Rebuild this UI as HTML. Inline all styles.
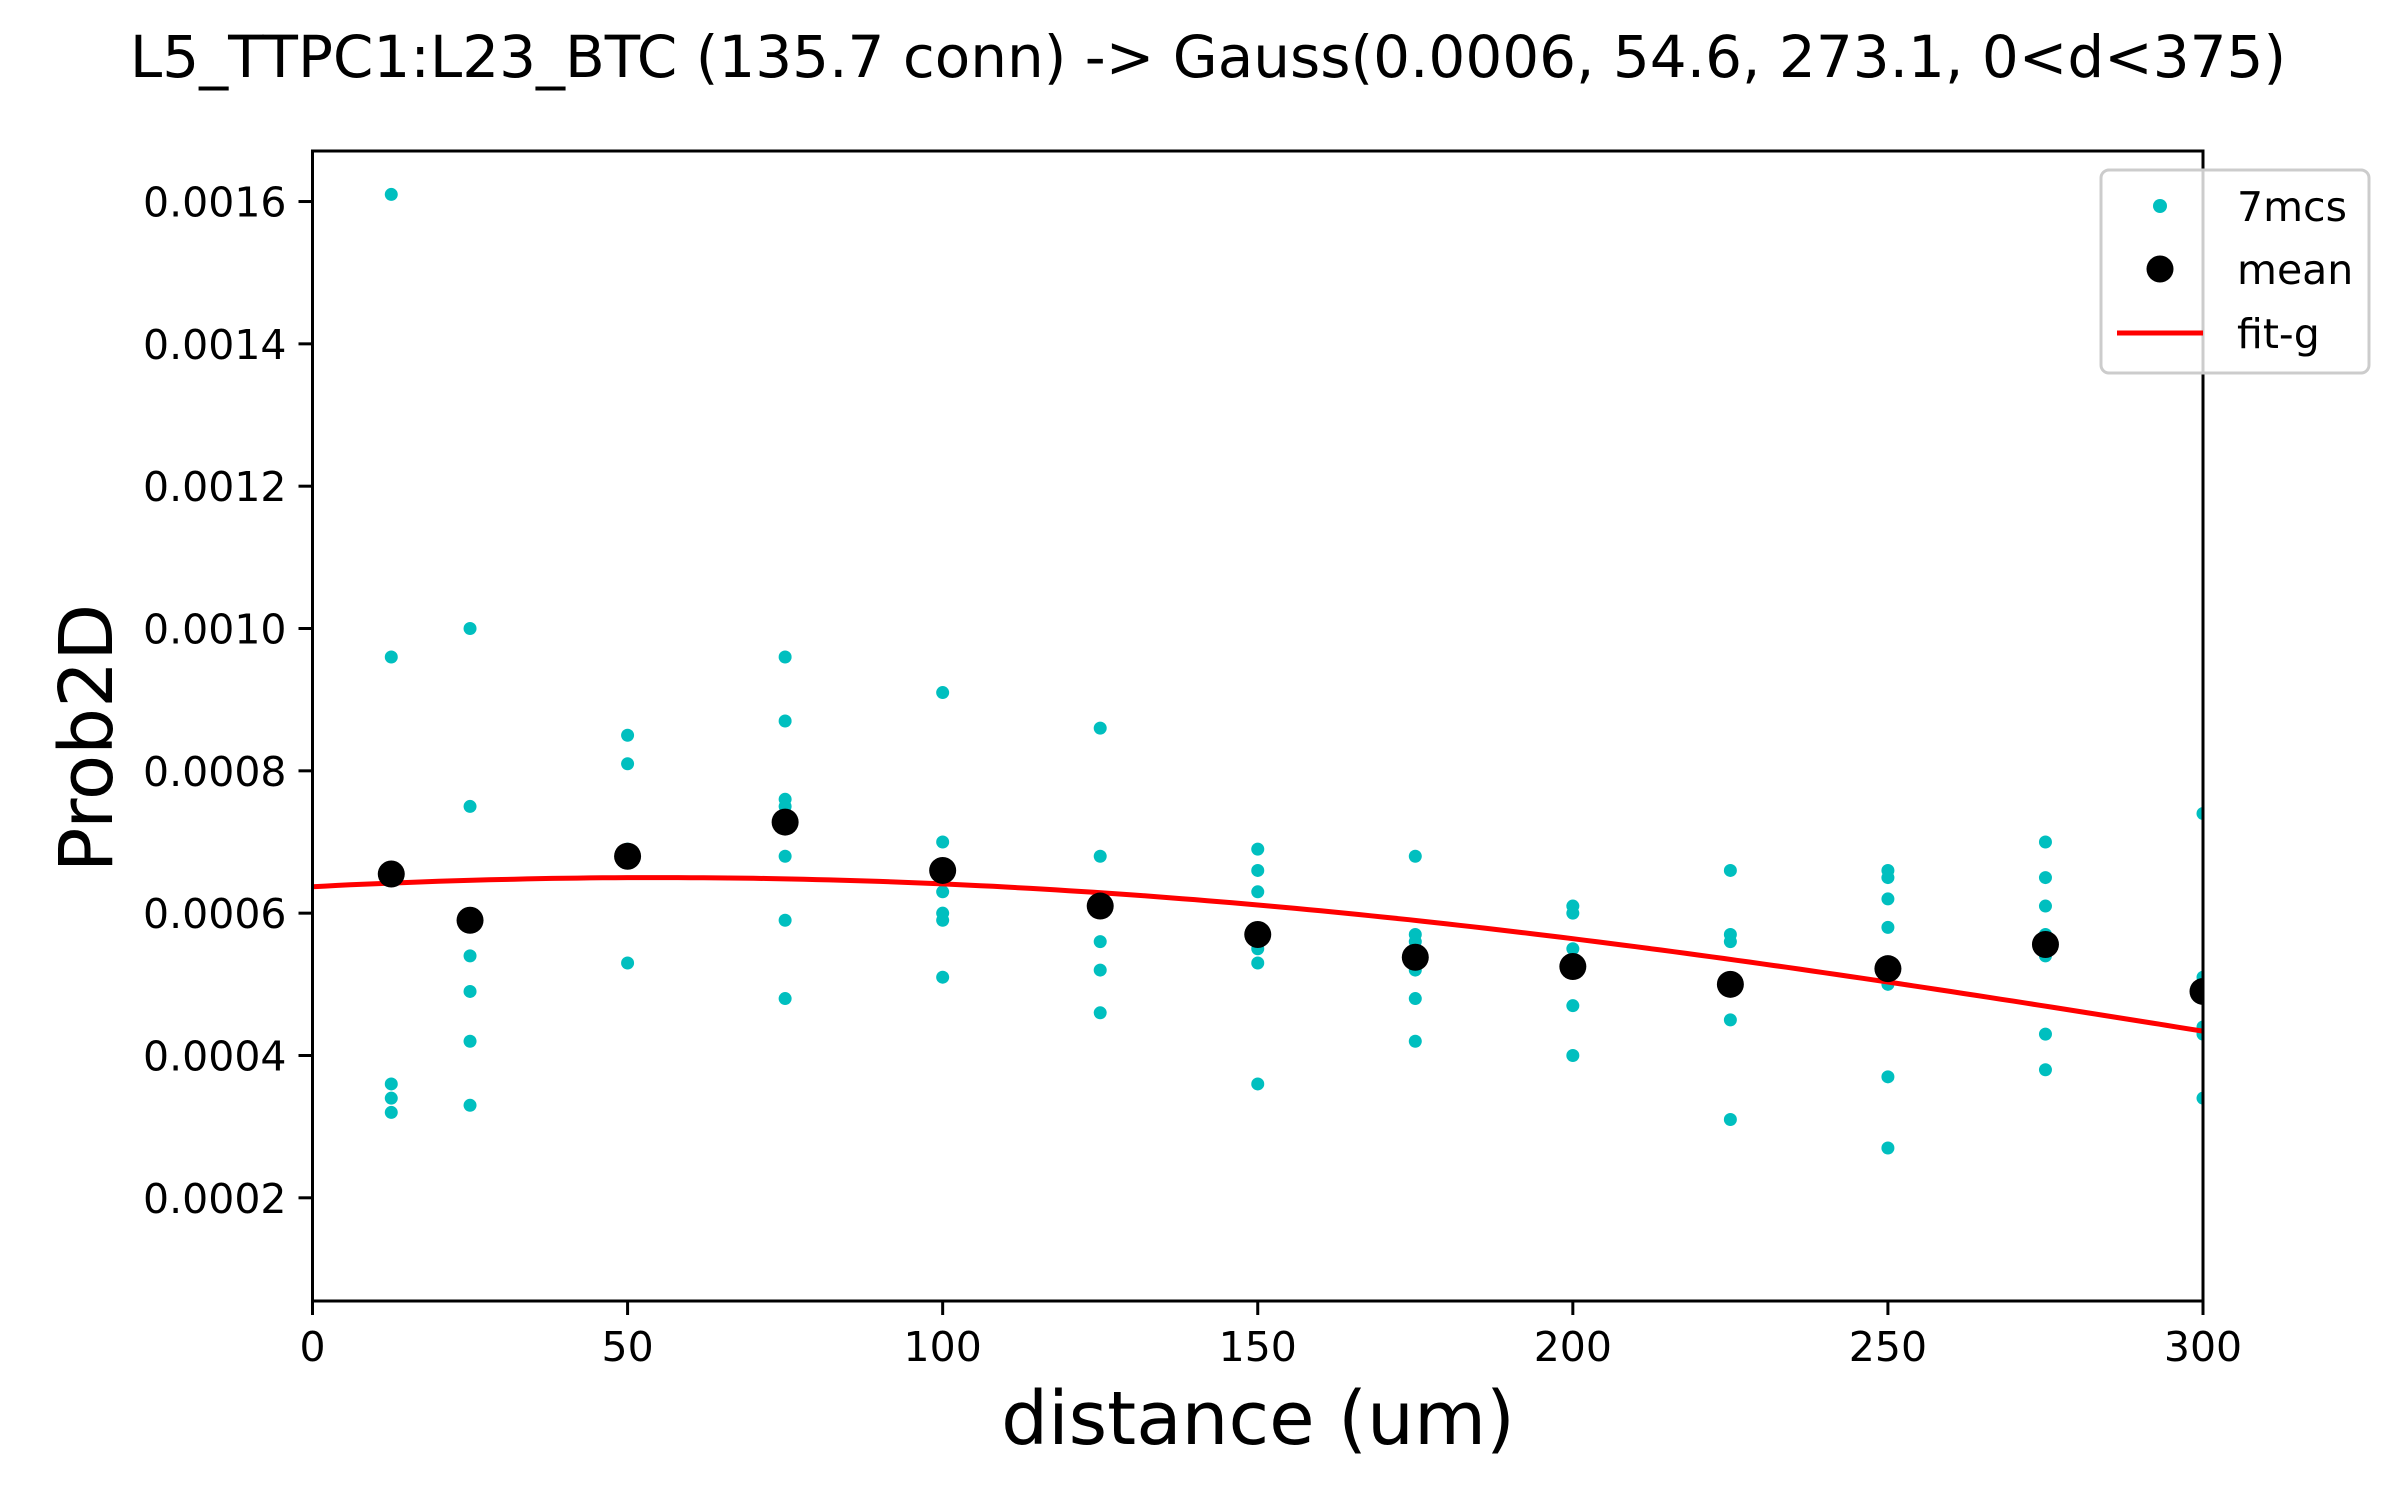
<!DOCTYPE html>
<html><head><meta charset="utf-8"><style>
html,body{margin:0;padding:0;background:#fff;}
svg{display:block;font-family:"DejaVu Sans","Liberation Sans",sans-serif;}
</style></head><body>
<svg id="chart" width="2400" height="1500" viewBox="0 0 2400 1500" xmlns="http://www.w3.org/2000/svg">
<text x="1208" y="77" font-size="58" text-anchor="middle">L5_TTPC1:L23_BTC (135.7 conn) -&gt; Gauss(0.0006, 54.6, 273.1, 0&lt;d&lt;375)</text>
<g id="plot"></g>
<g id="axes"></g>
<text x="1258" y="1444" font-size="74" text-anchor="middle">distance (um)</text>
<text transform="translate(112,738) rotate(-90)" font-size="74" text-anchor="middle">Prob2D</text>
<g>
<rect x="2101" y="170" width="268" height="203" rx="8" fill="#fff" fill-opacity="0.8" stroke="#ccc" stroke-width="3"/>
<circle cx="2160" cy="206" r="7" fill="#00bfbf"/>
<text x="2237" y="221" font-size="41">7mcs</text>
<circle cx="2160" cy="269" r="13.5" fill="#000"/>
<text x="2237" y="284" font-size="41">mean</text>
<line x1="2117" y1="333" x2="2203" y2="333" stroke="red" stroke-width="5"/>
<text x="2237" y="348" font-size="41">fit-g</text>
</g>
</svg>
<script>
const distances = [12.5, 25, 50, 75, 100, 125, 150, 175, 200, 225, 250, 275, 300];
const samples = [
 [0.00161, 0.00096, 0.00036, 0.00034, 0.00032],
 [0.0010, 0.00075, 0.00054, 0.00049, 0.00042, 0.00033],
 [0.00085, 0.00081, 0.00069, 0.00068, 0.00053],
 [0.00096, 0.00087, 0.00076, 0.00075, 0.00068, 0.00059, 0.00048],
 [0.00091, 0.00070, 0.00063, 0.00060, 0.00059, 0.00051],
 [0.00086, 0.00068, 0.00056, 0.00052, 0.00046],
 [0.00069, 0.00066, 0.00063, 0.00055, 0.00053, 0.00036],
 [0.00068, 0.00057, 0.00056, 0.00052, 0.00048, 0.00042],
 [0.00061, 0.00060, 0.00055, 0.00047, 0.00040],
 [0.00066, 0.00057, 0.00056, 0.00045, 0.00031],
 [0.00066, 0.00065, 0.00062, 0.00058, 0.00050, 0.00037, 0.00027],
 [0.00070, 0.00065, 0.00061, 0.00057, 0.00054, 0.00043, 0.00038],
 [0.00074, 0.00051, 0.00044, 0.00043, 0.00034]
];
const means = [0.000655, 0.00059, 0.00068, 0.000728, 0.00066, 0.00061, 0.00057, 0.000538, 0.000525, 0.0005, 0.000522, 0.000556, 0.00049];
const fitParams = [0.00065, 54.6, 273.1];
const xTicks = [0, 50, 100, 150, 200, 250, 300];
const yTicks = [0.0002, 0.0004, 0.0006, 0.0008, 0.0010, 0.0012, 0.0014, 0.0016];
const yTickLabels = ["0.0002", "0.0004", "0.0006", "0.0008", "0.0010", "0.0012", "0.0014", "0.0016"];

const L = 312.5, R = 2203, T = 151, B = 1301;
const X0 = 0, X1 = 300, Y0 = 0.000055, Y1 = 0.001671;
const xs = v => L + (v - X0) / (X1 - X0) * (R - L);
const ys = v => B - (v - Y0) / (Y1 - Y0) * (B - T);
const NS = "http://www.w3.org/2000/svg";
const plot = document.getElementById('plot');
const axes = document.getElementById('axes');
function mk(tag, attrs, parent) {
  const e = document.createElementNS(NS, tag);
  for (const k in attrs) e.setAttribute(k, attrs[k]);
  parent.appendChild(e);
  return e;
}
const defs = mk('defs', {}, plot);
const cp = mk('clipPath', {id: 'clip'}, defs);
mk('rect', {x: L, y: T, width: R - L, height: B - T}, cp);
const g = mk('g', {'clip-path': 'url(#clip)'}, plot);

samples.forEach((arr, i) => {
  arr.forEach(v => {
    const c = mk('circle', {cx: xs(distances[i]), cy: ys(v), r: 6.5, fill: '#00bfbf'}, g);
    
    
  });
});
let d = '';
for (let x = 0; x <= 300; x += 2) {
  const y = fitParams[0] * Math.exp(-Math.pow(x - fitParams[1], 2) / (2 * fitParams[2] * fitParams[2]));
  d += (x === 0 ? 'M' : 'L') + xs(x).toFixed(1) + ',' + ys(y).toFixed(1);
}
const fit = mk('path', {d: d, fill: 'none', stroke: 'red', 'stroke-width': 5}, g);


means.forEach((v, i) => {
  const c = mk('circle', {cx: xs(distances[i]), cy: ys(v), r: 13.5, fill: '#000'}, g);
  
  
});
const fr = mk('rect', {x: L, y: T, width: R - L, height: B - T, fill: 'none', stroke: '#000', 'stroke-width': 3}, axes);


xTicks.forEach(v => {
  const t = mk('line', {x1: xs(v), x2: xs(v), y1: B, y2: B + 14, stroke: '#000', 'stroke-width': 3}, axes);
  
  
  const tx = mk('text', {x: xs(v), y: B + 60, 'font-size': 41, 'text-anchor': 'middle'}, axes);
  tx.textContent = String(v);
  
  
});
yTicks.forEach((v, i) => {
  const t = mk('line', {x1: L - 14, x2: L, y1: ys(v), y2: ys(v), stroke: '#000', 'stroke-width': 3}, axes);
  
  
  const tx = mk('text', {x: L - 26, y: ys(v) + 15, 'font-size': 41, 'text-anchor': 'end'}, axes);
  tx.textContent = yTickLabels[i];
  
  
});
</script>
</body></html>
